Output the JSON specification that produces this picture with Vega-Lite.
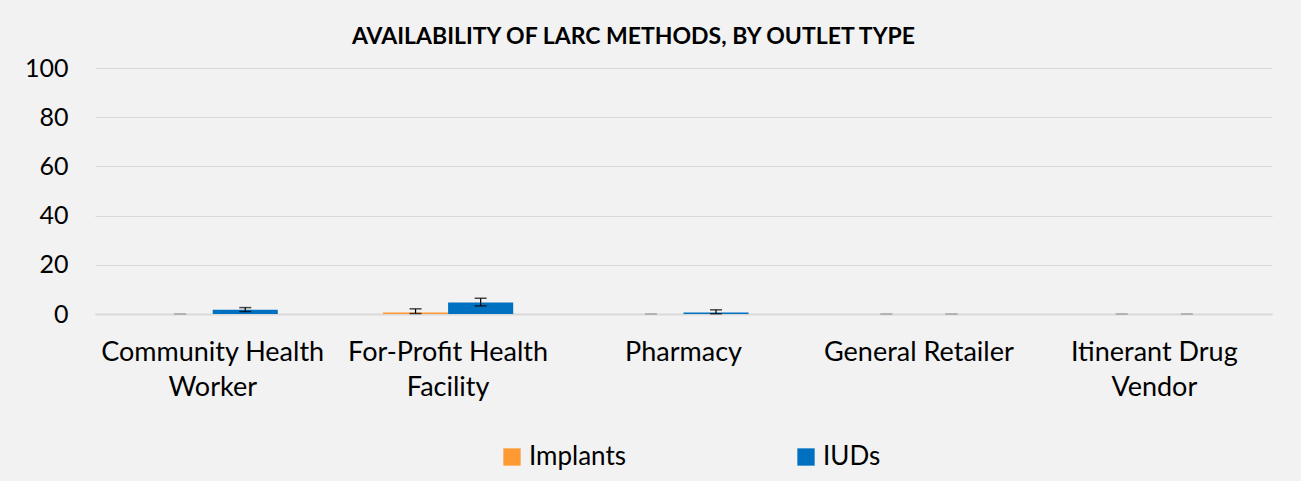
{
  "$schema": "https://vega.github.io/schema/vega-lite/v6.json",
  "autosize": "none",
  "width": 1177,
  "height": 246,
  "padding": {"left": 95, "top": 68, "right": 29, "bottom": 167},
  "background": "#F2F2F2",
  "title": {
    "text": "AVAILABILITY OF LARC METHODS, BY OUTLET TYPE",
    "font": "Lato",
    "fontSize": 23,
    "fontWeight": "bold",
    "color": "#000000",
    "anchor": "middle",
    "dx": -50,
    "offset": 7
  },
  "data": {
    "values": [
      {"outlet": "Community Health Worker", "method": "Implants", "value": 0, "lo": 0, "hi": 0},
      {"outlet": "Community Health Worker", "method": "IUDs", "value": 1.7, "lo": 1.0, "hi": 2.6},
      {"outlet": "For-Profit Health Facility", "method": "Implants", "value": 0.6, "lo": 0.2, "hi": 2.1},
      {"outlet": "For-Profit Health Facility", "method": "IUDs", "value": 4.7, "lo": 3.3, "hi": 6.4},
      {"outlet": "Pharmacy", "method": "Implants", "value": 0, "lo": 0, "hi": 0},
      {"outlet": "Pharmacy", "method": "IUDs", "value": 0.6, "lo": 0.1, "hi": 1.7},
      {"outlet": "General Retailer", "method": "Implants", "value": 0, "lo": 0, "hi": 0},
      {"outlet": "General Retailer", "method": "IUDs", "value": 0, "lo": 0, "hi": 0},
      {"outlet": "Itinerant Drug Vendor", "method": "Implants", "value": 0, "lo": 0, "hi": 0},
      {"outlet": "Itinerant Drug Vendor", "method": "IUDs", "value": 0, "lo": 0, "hi": 0}
    ]
  },
  "encoding": {
    "x": {
      "field": "outlet",
      "type": "nominal",
      "sort": ["Community Health Worker", "For-Profit Health Facility", "Pharmacy", "General Retailer", "Itinerant Drug Vendor"],
      "scale": {"paddingInner": 0.447, "paddingOuter": 0.2235},
      "axis": {
        "title": null,
        "labelAngle": 0,
        "labelFont": "Lato",
        "labelFontSize": 27,
        "labelColor": "#000000",
        "labelPadding": 25,
        "labelLineHeight": 35,
        "labelLimit": 300,
        "ticks": false,
        "domain": true,
        "domainColor": "#D9D9D9",
        "domainWidth": 2,
        "labelExpr": "datum.label == 'Community Health Worker' ? ['Community Health', 'Worker'] : datum.label == 'For-Profit Health Facility' ? ['For-Profit Health', 'Facility'] : datum.label == 'Itinerant Drug Vendor' ? ['Itinerant Drug', 'Vendor'] : datum.label"
      }
    },
    "xOffset": {"field": "method", "type": "nominal", "sort": ["Implants", "IUDs"], "scale": {"paddingInner": 0, "paddingOuter": 0}}
  },
  "layer": [
    {
      "mark": {"type": "bar"},
      "encoding": {
        "y": {
          "field": "value",
          "type": "quantitative",
          "scale": {"domain": [0, 100]},
          "axis": {
            "title": null,
            "values": [0, 20, 40, 60, 80, 100],
            "labelFont": "Lato",
            "labelFontSize": 25,
            "labelColor": "#000000",
            "labelPadding": 27,
            "ticks": false,
            "domain": false,
            "gridColor": "#D9D9D9",
            "gridWidth": 1
          }
        },
        "color": {
          "field": "method",
          "type": "nominal",
          "sort": ["Implants", "IUDs"],
          "scale": {"domain": ["Implants", "IUDs"], "range": ["#FF9933", "#0070C0"]},
          "legend": {
            "title": null,
            "orient": "none",
            "direction": "horizontal",
            "legendX": 404,
            "legendY": 376,
            "symbolType": "square",
            "symbolSize": 300,
            "symbolStrokeWidth": 0,
            "labelFont": "Lato",
            "labelFontSize": 26,
            "labelColor": "#000000",
            "labelOffset": 4,
            "columnPadding": 166
          }
        }
      }
    },
    {
      "mark": {"type": "rule", "strokeWidth": 1.2},
      "encoding": {
        "y": {"field": "lo", "type": "quantitative"},
        "y2": {"field": "hi"},
        "color": {"value": "#000000"}
      }
    },
    {
      "mark": {"type": "tick", "size": 12, "thickness": 1.5, "orient": "horizontal"},
      "encoding": {
        "y": {"field": "lo", "type": "quantitative"},
        "color": {"condition": {"test": "datum.hi == 0", "value": "#A6A6A6"}, "value": "#000000"}
      }
    },
    {
      "mark": {"type": "tick", "size": 12, "thickness": 1.5, "orient": "horizontal"},
      "encoding": {
        "y": {"field": "hi", "type": "quantitative"},
        "color": {"condition": {"test": "datum.hi == 0", "value": "#A6A6A6"}, "value": "#000000"}
      }
    }
  ],
  "config": {
    "view": {"stroke": null},
    "font": "Lato"
  }
}
